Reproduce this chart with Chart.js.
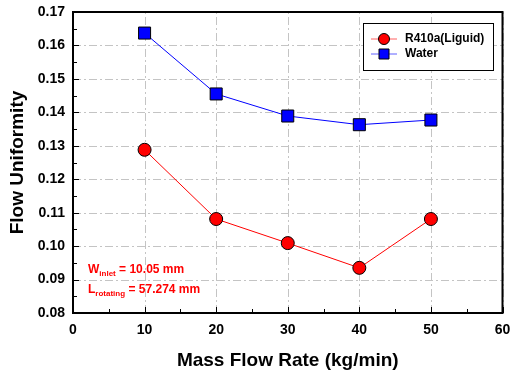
<!DOCTYPE html>
<html>
<head>
<meta charset="utf-8">
<script src="https://cdn.jsdelivr.net/npm/chart.js@4"></script>
<style>
  html, body { margin: 0; padding: 0; background: #fff; }
  #wrap { width: 512px; height: 372px; }
</style>
</head>
<body>
<div id="wrap"><canvas id="chart" width="512" height="372"></canvas></div>
<script>
const massFlow = [10, 20, 30, 40, 50];
const r410a = [0.1288, 0.1081, 0.1009, 0.0935, 0.1081];
const water = [0.1637, 0.1455, 0.1389, 0.1363, 0.1377];
const seriesNames = ["R410a(Liguid)", "Water"];
const xTicks = [0, 10, 20, 30, 40, 50, 60];

const FONT = "'Liberation Sans', Arial, sans-serif";

// dash-dot grid, drawn under the data
const gridPlugin = {
  id: "dashGrid",
  beforeDatasetsDraw(chart) {
    const ctx = chart.ctx;
    const a = chart.chartArea;
    const xs = chart.scales.x, ys = chart.scales.y;
    ctx.save();
    ctx.strokeStyle = "#c4c4c4";
    ctx.lineWidth = 1;
    ctx.setLineDash([8, 3, 2, 3]);
    ctx.beginPath();
    xTicks.forEach(v => {
      const px = Math.round(xs.getPixelForValue(v)) + 0.5;
      ctx.moveTo(px, a.bottom);
      ctx.lineTo(px, a.top);
    });
    for (let i = 0; i <= 9; i++) {
      const py = Math.round(ys.getPixelForValue(0.08 + i * 0.01)) + 0.5;
      ctx.moveTo(a.left, py);
      ctx.lineTo(a.right, py);
    }
    ctx.stroke();
    ctx.restore();
  }
};

// inward ticks, frame, legend and the red note
const decorPlugin = {
  id: "decor",
  afterDraw(chart) {
    const ctx = chart.ctx;
    const a = chart.chartArea;
    const xs = chart.scales.x, ys = chart.scales.y;
    ctx.save();
    ctx.strokeStyle = "#000";
    ctx.lineWidth = 1;
    ctx.beginPath();
    for (let v = 0; v <= 60; v += 5) {
      const px = Math.round(xs.getPixelForValue(v)) + 0.5;
      const len = v % 10 === 0 ? 6 : 4;
      ctx.moveTo(px, a.bottom);
      ctx.lineTo(px, a.bottom - len);
    }
    for (let i = 0; i <= 18; i++) {
      const v = 0.08 + i * 0.005;
      const py = Math.round(ys.getPixelForValue(v)) + 0.5;
      const len = i % 2 === 0 ? 6 : 4;
      ctx.moveTo(a.left, py);
      ctx.lineTo(a.left + len, py);
    }
    ctx.stroke();
    ctx.lineWidth = 2;
    ctx.strokeRect(a.left, a.top, a.right - a.left, a.bottom - a.top);

    // legend
    const lx = 363, ly = 23;
    ctx.fillStyle = "#fff";
    ctx.fillRect(lx, ly, 130, 47);
    ctx.lineWidth = 1;
    ctx.strokeRect(lx + 0.5, ly + 0.5, 130, 47);
    const rows = [
      { c: "#ff0000", line: "#ff6060", shape: "circle" },
      { c: "#0000ff", line: "#6060ff", shape: "square" }
    ];
    rows.forEach((r, i) => {
      const y = ly + 16 + i * 15;
      ctx.strokeStyle = r.line;
      ctx.lineWidth = 1;
      ctx.beginPath();
      ctx.moveTo(lx + 8, y);
      ctx.lineTo(lx + 34, y);
      ctx.stroke();
      ctx.fillStyle = r.c;
      ctx.strokeStyle = "#000";
      ctx.beginPath();
      if (r.shape === "circle") ctx.arc(lx + 21, y, 5.5, 0, Math.PI * 2);
      else ctx.rect(lx + 16, y - 5, 10, 10);
      ctx.fill();
      ctx.stroke();
      ctx.fillStyle = "#000";
      ctx.font = "bold 12px " + FONT;
      ctx.textBaseline = "middle";
      ctx.fillText(seriesNames[i], lx + 42, y);
    });

    // note
    ctx.fillStyle = "#ff0000";
    ctx.textBaseline = "alphabetic";
    const note = [["W", "inlet", " = 10.05 mm", 273], ["L", "rotating", " = 57.274 mm", 293]];
    note.forEach(n => {
      let x = 88;
      ctx.font = "bold 12px " + FONT;
      ctx.fillText(n[0], x, n[3]);
      x += ctx.measureText(n[0]).width;
      ctx.font = "bold 8px " + FONT;
      ctx.fillText(n[1], x, n[3] + 3);
      x += ctx.measureText(n[1]).width;
      ctx.font = "bold 12px " + FONT;
      ctx.fillText(n[2], x, n[3]);
    });
    ctx.restore();
  }
};

new Chart(document.getElementById("chart"), {
  type: "line",
  data: {
    datasets: [
      {
        label: seriesNames[0],
        data: massFlow.map((x, i) => ({ x: x, y: r410a[i] })),
        borderColor: "#ff0000",
        borderWidth: 1,
        backgroundColor: "#ff0000",
        pointStyle: "circle",
        pointRadius: 6.5,
        pointBorderColor: "#000",
        pointBorderWidth: 1
      },
      {
        label: seriesNames[1],
        data: massFlow.map((x, i) => ({ x: x, y: water[i] })),
        borderColor: "#0000ff",
        borderWidth: 1,
        backgroundColor: "#0000ff",
        pointStyle: "rect",
        pointRadius: 8.5,
        pointBorderColor: "#000",
        pointBorderWidth: 1
      }
    ]
  },
  options: {
    responsive: false,
    animation: false,
    layout: { padding: { top: 12, right: 7, left: 0, bottom: 0 } },
    plugins: { legend: { display: false }, tooltip: { enabled: false } },
    scales: {
      x: {
        type: "linear",
        min: 0, max: 60,
        afterFit(s) {
          s.height = 59;
          s.paddingLeft = 0;
          s.paddingRight = 0;
        },
        afterBuildTicks(s) { s.ticks = xTicks.map(v => ({ value: v })); },
        grid: { display: false, drawTicks: false },
        border: { display: false },
        ticks: {
          padding: 9,
          color: "#000",
          font: { family: FONT, size: 14, weight: "bold" }
        },
        title: {
          display: true,
          text: "Mass Flow Rate (kg/min)",
          color: "#000",
          padding: 0,
          font: { family: FONT, size: 19, weight: "bold" }
        }
      },
      y: {
        min: 0.08, max: 0.17,
        afterFit(s) {
          s.width = 73;
          s.paddingTop = 0;
          s.paddingBottom = 0;
        },
        grid: { display: false, drawTicks: false },
        border: { display: false },
        ticks: {
          stepSize: 0.01,
          padding: 8,
          color: "#000",
          font: { family: FONT, size: 14, weight: "bold" },
          callback: v => v.toFixed(2)
        },
        title: {
          display: true,
          text: "Flow Uniformity",
          color: "#000",
          padding: { top: 6, bottom: 4 },
          font: { family: FONT, size: 19, weight: "bold" }
        }
      }
    }
  },
  plugins: [gridPlugin, decorPlugin]
});
</script>
</body>
</html>
